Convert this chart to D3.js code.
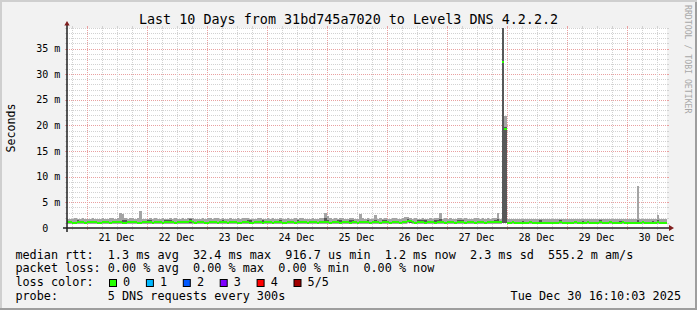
<!DOCTYPE html>
<html><head><meta charset="utf-8">
<script src="https://cdn.jsdelivr.net/npm/d3@7"></script>
<style>
html,body{margin:0;padding:0;background:#f2f2f2;}
svg{display:block;font-family:"DejaVu Sans Mono",monospace;}
</style></head><body><svg id="c" width="697" height="310"></svg>
<script>
// ---------------- data ----------------
const titleText = "Last 10 Days from 31bd745a7020 to Level3 DNS 4.2.2.2";
const yAxisTitle = "Seconds";
const watermark = "RRDTOOL / TOBI OETIKER";
const yTickValues = [0, 5, 10, 15, 20, 25, 30, 35];
const yTickLabels = ["0", "5 m", "10 m", "15 m", "20 m", "25 m", "30 m", "35 m"];
const dayLabels = ["21 Dec", "22 Dec", "23 Dec", "24 Dec", "25 Dec", "26 Dec", "27 Dec", "28 Dec", "29 Dec", "30 Dec"];
// hourly bins starting Dec 20 16:00 UTC (ms)
const medianMs = [
1.22,1.20,0.95,0.93,1.18,1.21,1.19,0.94,1.20,1.22,1.18,1.17,0.95,0.93,1.19,1.21,1.23,0.95,1.20,1.18,1.22,1.24,0.96,0.94,
1.19,1.21,1.20,1.25,0.95,0.93,1.18,1.20,1.22,1.19,0.94,1.20,1.21,1.18,0.93,1.19,1.22,1.20,1.17,0.94,1.21,1.19,1.23,1.20,
1.20,1.30,1.18,0.94,1.21,1.19,1.20,0.93,0.92,1.18,1.22,1.21,0.95,1.19,1.20,1.18,0.94,1.21,1.23,1.19,0.94,0.93,1.20,1.22,
1.18,0.95,0.93,1.20,1.21,1.19,0.94,1.22,1.20,1.18,0.94,1.21,1.19,1.20,0.95,0.93,1.18,1.21,1.20,0.94,1.19,1.22,1.18,1.21,
0.94,1.20,1.19,1.22,0.94,1.21,1.25,1.20,1.18,0.95,1.20,1.21,1.19,0.94,1.22,1.20,1.18,0.94,1.21,1.19,0.95,1.20,1.22,1.19,
1.20,0.94,1.21,1.19,1.22,0.93,1.20,1.18,1.21,0.95,1.19,1.22,1.20,0.94,1.18,1.21,1.45,1.30,1.19,0.94,1.21,1.20,1.18,0.95,
1.21,1.19,1.20,0.94,1.22,1.18,1.21,0.93,1.20,1.19,1.22,0.95,1.21,1.18,1.20,0.94,1.19,1.21,1.20,0.93,1.22,1.19,1.21,0.95,
1.20,1.18,1.21,1.19,1.22,1.20,32.4,19.4,1.04,1.02,1.18,1.00,1.01,0.99,1.03,1.00,1.02,1.18,1.00,0.98,1.01,1.03,1.00,0.99,
0.98,0.93,1.00,0.94,1.02,1.15,0.99,1.01,0.94,1.03,1.00,1.14,0.99,0.93,1.01,1.00,1.12,0.94,1.02,1.00,0.95,1.13,1.01,0.94,
1.00,1.12,0.99,1.01,0.98,1.02,1.15,1.00,0.97,1.01,0.99,1.03,1.00,0.98,1.14,1.01,0.99,1.00,1.02,0.98,1.13,1.01,1.00,1.05,1.20
];
const pingMaxMs = [
1.85,1.80,1.78,1.90,1.82,1.75,1.88,1.80,1.72,1.85,1.90,1.80,1.76,1.82,1.88,1.70,1.80,2.00,1.95,1.85,1.90,2.85,2.80,1.88,
1.85,1.90,1.92,1.80,1.88,3.40,1.85,1.78,1.82,1.90,1.85,1.95,1.80,1.85,1.88,1.82,1.80,1.90,1.85,1.88,1.78,1.82,1.92,1.85,
1.90,1.95,1.88,1.85,1.82,1.80,1.92,1.85,1.90,1.88,1.78,1.86,1.90,1.84,1.88,1.80,1.85,1.90,1.82,1.80,1.88,1.84,1.86,1.90,
1.88,1.80,1.85,1.82,1.90,1.86,1.80,1.84,1.88,1.82,1.90,1.85,1.80,1.88,1.84,1.82,1.86,1.80,1.85,1.88,1.82,1.86,1.90,1.84,
1.85,1.80,1.88,1.84,1.82,1.90,1.86,2.85,2.40,1.90,1.85,1.88,1.82,1.86,1.90,1.84,1.80,1.88,2.00,1.85,1.82,2.80,1.90,1.84,
1.86,1.84,1.80,2.45,1.85,1.88,1.82,1.90,1.84,1.80,1.86,1.88,1.82,1.85,1.90,2.20,2.15,1.88,1.84,1.86,1.80,1.85,1.90,1.84,
1.85,1.88,1.82,1.86,1.90,3.00,1.84,1.86,1.80,1.88,1.85,1.82,1.86,1.90,1.84,1.88,1.82,1.85,1.80,1.88,1.86,1.84,1.90,1.85,
1.88,1.84,1.86,1.90,3.00,1.85,45.0,21.8,1.80,1.75,1.72,1.70,1.74,1.72,1.76,1.70,1.72,1.75,1.68,1.72,1.70,1.74,1.72,1.70,
1.68,1.70,1.72,1.66,1.70,1.74,1.68,1.72,1.70,1.66,1.74,1.70,1.68,1.72,1.70,1.66,1.72,1.68,1.70,1.74,1.66,1.70,1.72,1.68,
1.70,1.72,1.68,1.66,1.70,1.74,1.68,1.70,1.72,1.66,1.70,1.68,8.20,1.70,1.66,1.72,1.68,1.70,1.74,1.68,2.50,1.70,1.72,1.68,1.72
];
const pingUpperMs = [
1.40,1.38,1.15,1.13,1.62,1.40,1.38,1.14,1.40,1.42,1.36,1.35,1.15,1.13,1.38,1.40,1.42,1.15,1.40,1.36,1.40,1.42,1.62,1.60,
1.38,1.40,1.40,1.45,1.15,1.13,1.38,1.40,1.65,1.62,1.14,1.40,1.40,1.38,1.13,1.62,1.65,1.60,1.36,1.14,1.40,1.38,1.42,1.40,
1.40,1.70,1.38,1.14,1.40,1.38,1.40,1.13,1.12,1.38,1.42,1.40,1.15,1.38,1.62,1.38,1.14,1.40,1.42,1.38,1.14,1.13,1.40,1.42,
1.62,1.60,1.13,1.40,1.40,1.38,1.60,1.42,1.40,1.38,1.14,1.40,1.38,1.62,1.15,1.13,1.38,1.40,1.40,1.14,1.60,1.42,1.38,1.40,
1.14,1.40,1.38,1.42,1.14,1.40,1.45,2.00,1.60,1.15,1.40,1.40,1.62,1.60,1.42,1.40,1.38,1.62,1.60,1.38,1.15,1.40,1.42,1.38,
1.62,1.14,1.40,1.60,1.42,1.13,1.62,1.60,1.40,1.15,1.38,1.42,1.40,1.14,1.38,1.40,1.70,1.50,1.38,1.14,1.62,1.60,1.62,1.60,
1.40,1.38,1.40,1.60,1.62,1.80,1.40,1.13,1.40,1.38,1.42,1.15,1.62,1.60,1.62,1.14,1.38,1.40,1.40,1.13,1.42,1.38,1.40,1.15,
1.40,1.38,1.40,1.62,1.80,1.40,45.0,19.6,1.24,1.22,1.38,1.20,1.21,1.19,1.45,1.20,1.22,1.38,1.20,1.18,1.21,1.50,1.20,1.19,
1.18,1.13,1.20,1.14,1.22,1.50,1.19,1.21,1.14,1.23,1.20,1.34,1.19,1.13,1.45,1.20,1.32,1.14,1.22,1.20,1.15,1.48,1.21,1.14,
1.20,1.32,1.19,1.21,1.18,1.45,1.35,1.20,1.17,1.21,1.19,1.23,1.60,1.18,1.34,1.21,1.19,1.20,1.42,1.18,1.60,1.21,1.20,1.25,1.40
];
const pingLowerMs = [
0.91,0.90,0.89,0.90,0.91,0.92,0.90,0.89,0.91,0.92,0.90,0.91,0.89,0.89,0.91,0.90,0.92,0.89,0.91,0.90,0.92,0.91,0.90,0.89,
0.90,0.91,0.92,0.91,0.89,0.89,0.90,0.91,0.92,0.90,0.89,0.91,0.92,0.90,0.89,0.91,0.92,0.90,0.91,0.89,0.90,0.91,0.92,0.90,
0.91,0.92,0.90,0.89,0.91,0.90,0.92,0.89,0.89,0.90,0.91,0.92,0.89,0.90,0.91,0.90,0.89,0.91,0.92,0.90,0.89,0.89,0.91,0.92,
0.90,0.89,0.89,0.91,0.92,0.90,0.89,0.91,0.92,0.90,0.89,0.91,0.90,0.92,0.89,0.89,0.90,0.91,0.92,0.89,0.90,0.91,0.90,0.92,
0.89,0.91,0.90,0.92,0.89,0.91,0.92,0.90,0.91,0.89,0.90,0.92,0.91,0.89,0.92,0.90,0.91,0.89,0.92,0.90,0.89,0.91,0.92,0.90,
0.91,0.89,0.92,0.90,0.91,0.89,0.90,0.91,0.92,0.89,0.90,0.92,0.91,0.89,0.90,0.91,1.10,1.05,0.90,0.89,0.91,0.92,0.90,0.89,
0.92,0.90,0.91,0.89,0.92,0.90,0.91,0.89,0.90,0.91,0.92,0.89,0.91,0.90,0.92,0.89,0.90,0.91,0.92,0.89,0.91,0.90,0.92,0.89,
0.91,0.90,0.92,0.91,0.90,0.91,1.05,1.05,0.90,0.89,0.91,0.89,0.90,0.89,0.90,0.89,0.89,0.91,0.89,0.88,0.89,0.90,0.89,0.89,
0.88,0.88,0.89,0.88,0.90,0.92,0.89,0.90,0.88,0.91,0.89,0.92,0.89,0.88,0.90,0.89,0.91,0.88,0.90,0.89,0.89,0.92,0.90,0.88,
0.89,0.91,0.89,0.90,0.88,0.91,0.92,0.89,0.88,0.90,0.89,0.91,0.90,0.88,0.92,0.90,0.89,0.89,0.91,0.88,0.91,0.90,0.89,0.92,0.92
];
const pingMinMs = [
0.86,0.85,0.84,0.85,0.86,0.87,0.85,0.84,0.86,0.87,0.85,0.86,0.84,0.84,0.86,0.85,0.87,0.84,0.86,0.85,0.87,0.86,0.85,0.84,
0.85,0.86,0.87,0.86,0.84,0.84,0.85,0.86,0.87,0.85,0.84,0.86,0.87,0.85,0.84,0.86,0.87,0.85,0.86,0.84,0.85,0.86,0.87,0.85,
0.86,0.87,0.85,0.84,0.86,0.85,0.87,0.84,0.84,0.85,0.86,0.87,0.84,0.85,0.86,0.85,0.84,0.86,0.87,0.85,0.84,0.84,0.86,0.87,
0.85,0.84,0.84,0.86,0.87,0.85,0.84,0.86,0.87,0.85,0.84,0.86,0.85,0.87,0.84,0.84,0.85,0.86,0.87,0.84,0.85,0.86,0.85,0.87,
0.84,0.86,0.85,0.87,0.84,0.86,0.87,0.85,0.86,0.84,0.85,0.87,0.86,0.84,0.87,0.85,0.86,0.84,0.87,0.85,0.84,0.86,0.87,0.85,
0.86,0.84,0.87,0.85,0.86,0.84,0.85,0.86,0.87,0.84,0.85,0.87,0.86,0.84,0.85,0.86,0.98,0.96,0.85,0.84,0.86,0.87,0.85,0.84,
0.87,0.85,0.86,0.84,0.87,0.85,0.86,0.84,0.85,0.86,0.87,0.84,0.86,0.85,0.87,0.84,0.85,0.86,0.87,0.84,0.86,0.85,0.87,0.84,
0.86,0.85,0.87,0.86,0.85,0.86,0.98,0.99,0.85,0.84,0.86,0.84,0.85,0.84,0.85,0.84,0.84,0.86,0.84,0.83,0.84,0.85,0.84,0.84,
0.83,0.83,0.84,0.83,0.85,0.87,0.84,0.85,0.83,0.86,0.84,0.87,0.84,0.83,0.85,0.84,0.86,0.83,0.85,0.84,0.84,0.87,0.85,0.83,
0.84,0.86,0.84,0.85,0.83,0.86,0.87,0.84,0.83,0.85,0.84,0.86,0.85,0.83,0.87,0.85,0.84,0.84,0.86,0.83,0.86,0.85,0.84,0.87,0.87
];
const legendLines = [
  "median rtt:  1.3 ms avg  32.4 ms max  916.7 us min  1.2 ms now  2.3 ms sd  555.2 m am/s",
  "packet loss: 0.00 % avg  0.00 % max  0.00 % min  0.00 % now",
  "loss color:",
  "probe:       5 DNS requests every 300s"
];
const lossLabels = ["0", "1", "2", "3", "4", "5/5"];
const lossColors = ["#26ff00", "#00b8ff", "#0059ff", "#7e00ff", "#ff0000", "#a10000"];
const stampText = "Tue Dec 30 16:10:03 2025";

// ---------------- layout ----------------
const W = 697, H = 310;
const X0 = 67, X1 = 667, Y0 = 228, Y1 = 28;
const tStart = Date.UTC(2025, 11, 20, 16, 10, 3);
const tEnd = Date.UTC(2025, 11, 30, 16, 10, 3);
const tFirstBin = Date.UTC(2025, 11, 20, 16, 0, 0);
const HOUR = 3600e3;

const x = d3.scaleUtc().domain([tStart, tEnd]).range([X0, X1]);
const y = d3.scaleLinear().domain([0, 39]).range([Y0, Y1]);

const svg = d3.select("#c");
svg.append("rect").attr("width", W).attr("height", H).attr("fill", "#f2f2f2");
svg.append("path").attr("d", "M0,0H697V2H2V310H0Z").attr("fill", "#cfcfcf");
svg.append("path").attr("d", "M697,0V310H0V308H695V2H697Z").attr("fill", "#9e9e9e");

// canvas
svg.append("rect").attr("x", X0).attr("y", Y1).attr("width", X1 - X0).attr("height", Y0 - Y1).attr("fill", "#ffffff");

svg.append("clipPath").attr("id", "plotclip").append("rect")
  .attr("x", X0).attr("y", Y1).attr("width", X1 - X0).attr("height", Y0 - Y1);

// grid (drawn beneath the data)
const gGrid = svg.append("g");
const minorY = d3.range(1, 39.5, 1).filter(v => v % 5 !== 0);
const majorY = yTickValues.filter(v => v > 0);
function hline(v, col) {
  const yy = Math.round(y(v)) + 0.5;
  gGrid.append("line").attr("x1", X0).attr("x2", X1).attr("y1", yy).attr("y2", yy)
    .attr("stroke", col).attr("stroke-width", 1).attr("stroke-dasharray", "1,1");
  gGrid.append("line").attr("x1", X0 - 2).attr("x2", X0).attr("y1", yy).attr("y2", yy).attr("stroke", col);
  gGrid.append("line").attr("x1", X1).attr("x2", X1 + 2).attr("y1", yy).attr("y2", yy).attr("stroke", col);
}
minorY.forEach(v => hline(v, "#d2d2d2"));
majorY.forEach(v => hline(v, "#e9a0a0"));

const sixHours = d3.utcHour.every(6).range(new Date(tStart), new Date(tEnd));
function vline(t, col) {
  const xx = Math.round(x(t)) + 0.5;
  gGrid.append("line").attr("x1", xx).attr("x2", xx).attr("y1", Y1).attr("y2", Y0)
    .attr("stroke", col).attr("stroke-width", 1).attr("stroke-dasharray", "1,1");
  gGrid.append("line").attr("x1", xx).attr("x2", xx).attr("y1", Y1 - 2).attr("y2", Y1).attr("stroke", col);
  gGrid.append("line").attr("x1", xx).attr("x2", xx).attr("y1", Y0).attr("y2", Y0 + 2).attr("stroke", col);
}
sixHours.forEach(t => vline(t, t.getUTCHours() === 0 ? "#e9a0a0" : "#d2d2d2"));

// data
const bins = medianMs.map((m, i) => {
  const t0 = tFirstBin + i * HOUR;
  return {
    x0: Math.max(X0, x(t0)), x1: Math.min(X1, x(t0 + HOUR)),
    med: m, hi: pingMaxMs[i], up: pingUpperMs[i], low: pingLowerMs[i], min: pingMinMs[i]
  };
}).filter(d => d.x1 > d.x0);

const gData = svg.append("g").attr("clip-path", "url(#plotclip)").attr("shape-rendering", "crispEdges");
gData.selectAll("rect.outer").data(bins).join("rect").attr("class", "outer")
  .attr("x", d => d.x0).attr("width", d => d.x1 - d.x0)
  .attr("y", d => y(Math.max(d.hi, d.min))).attr("height", d => Math.abs(y(d.min) - y(d.hi)))
  .attr("fill", "#a4a4a4");
gData.selectAll("rect.inner").data(bins).join("rect").attr("class", "inner")
  .attr("x", d => d.x0).attr("width", d => d.x1 - d.x0)
  .attr("y", d => y(Math.max(d.up, d.low))).attr("height", d => Math.abs(y(d.low) - y(d.up)))
  .attr("fill", "#585858");
gData.selectAll("rect.med").data(bins).join("rect").attr("class", "med")
  .attr("x", d => d.x0).attr("width", d => d.x1 - d.x0)
  .attr("y", d => y(d.med) - 1).attr("height", 2)
  .attr("fill", lossColors[0]);

// axes
svg.append("line").attr("x1", X0 - 4).attr("x2", X1 + 4).attr("y1", Y0).attr("y2", Y0)
  .attr("stroke", "#1f1f1f").attr("stroke-width", 1.5);
svg.append("line").attr("x1", X0).attr("x2", X0).attr("y1", Y0 + 4).attr("y2", Y1 - 3)
  .attr("stroke", "#1f1f1f").attr("stroke-width", 1.5);
svg.append("path").attr("d", `M${X0 - 2.7},${Y1 - 2.5}L${X0},${Y1 - 7}L${X0 + 2.7},${Y1 - 2.5}Z`).attr("fill", "#801f1f");
svg.append("path").attr("d", `M${X1 + 2},${Y0 - 3}L${X1 + 7},${Y0}L${X1 + 2},${Y0 + 3}Z`).attr("fill", "#801f1f");

// y tick labels
svg.append("g").selectAll("text").data(yTickValues).join("text")
  .attr("x", d => d === 0 ? 48.3 : 60.3)
  .attr("y", d => y(d) + 3.6)
  .attr("text-anchor", "end").attr("font-size", 10).attr("fill", "#000")
  .text((d, i) => yTickLabels[i]);

// x labels at noon of each day
svg.append("g").selectAll("text").data(dayLabels).join("text")
  .attr("x", (d, i) => x(Date.UTC(2025, 11, 21 + i, 12)))
  .attr("y", 241.3).attr("text-anchor", "middle").attr("font-size", 10).attr("fill", "#000")
  .text(d => d);

// title
svg.append("text").attr("x", W / 2).attr("y", 24).attr("text-anchor", "middle")
  .attr("font-size", 13.4).attr("fill", "#000").text(titleText);

// y axis title
svg.append("text").attr("transform", `translate(14.5,${(Y0 + Y1) / 2}) rotate(-90)`)
  .attr("text-anchor", "middle").attr("font-size", 11.6).attr("fill", "#000").text(yAxisTitle);

// watermark
svg.append("text").attr("transform", "translate(684.5,5) rotate(90)")
  .attr("font-size", 8.2).attr("fill", "#a8a8a8").text(watermark);

// legend
const legendBase = [258.5, 272.3, 286.1, 299.9];
const gLeg = svg.append("g").attr("font-size", 11.8).attr("fill", "#000");
legendLines.forEach((s, r) => {
  gLeg.append("text").attr("x", 15.4).attr("y", legendBase[r])
    .style("white-space", "pre").text(s);
});
lossLabels.forEach((lab, k) => {
  const bx = 109 + k * 36.9;
  gLeg.append("rect").attr("x", bx + 0.5).attr("y", 279.5).attr("width", 7).attr("height", 7)
    .attr("fill", lossColors[k]).attr("stroke", "#000").attr("stroke-width", 1);
  gLeg.append("text").attr("x", bx + 14.1).attr("y", legendBase[2]).text(lab);
});
gLeg.append("text").attr("x", 681).attr("y", legendBase[3]).attr("text-anchor", "end").text(stampText);
</script></body></html>
